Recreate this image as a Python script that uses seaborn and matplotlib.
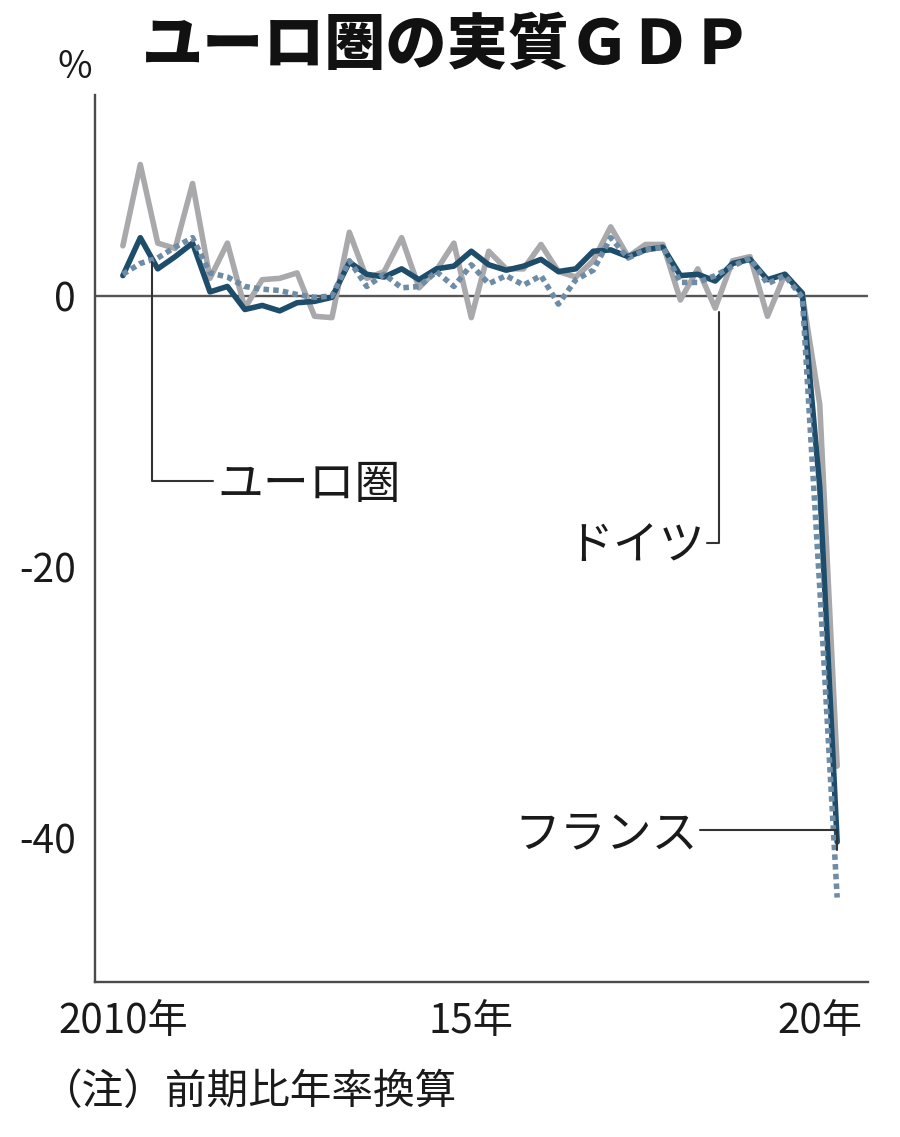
import matplotlib
matplotlib.use("Agg")
import matplotlib.pyplot as plt
import seaborn as sns
import pandas as pd
import numpy as np

# ---- data (annualised q/q %, 2010Q1 .. 2020Q2) ----
quarters = [f"{y}Q{q}" for y in range(2010, 2021) for q in range(1, 5)][:42]
euro = [1.5, 4.3, 2.0, 2.9, 3.9, 0.3, 0.7, -1.0, -0.7, -1.1,
        -0.5, -0.4, -0.1, 2.5, 1.6, 1.4, 2.0, 1.2, 2.0, 2.2,
        3.3, 2.3, 1.9, 2.2, 2.7, 1.8, 2.0, 3.3, 3.4, 2.9,
        3.4, 3.6, 1.5, 1.6, 1.1, 2.4, 2.7, 1.2, 1.6, 0.2,
        -14.1, -40.3]
germany = [3.7, 9.7, 3.9, 3.5, 8.3, 1.3, 3.9, -0.9, 1.2, 1.3,
           1.7, -1.5, -1.6, 4.7, 1.3, 1.8, 4.3, 0.6, 1.9, 3.9,
           -1.6, 3.3, 2.0, 2.0, 3.8, 1.8, 1.4, 2.6, 5.1, 2.9,
           3.8, 3.8, -0.3, 2.0, -0.9, 2.6, 2.9, -1.5, 1.6, 0.1,
           -8.0, -34.7]
france = [1.6, 2.4, 2.8, 3.6, 4.3, 1.7, 1.4, 0.7, 0.5, 0.4,
          0.1, -0.1, 0.0, 2.6, 0.7, 1.6, 0.6, 0.7, 1.8, 0.7,
          2.3, 0.9, 1.5, 0.8, 1.5, -0.6, 1.2, 1.9, 4.3, 2.8,
          3.4, 3.6, 1.0, 1.0, 1.5, 2.2, 2.8, 0.9, 1.5, -0.1,
          -21.5, -44.4]
xtick_labels = {0: "2010年", 20: "15年", 40: "20年"}
ytick_values = [0, -20, -40]

# ---- style ----
sns.set_style("white")
plt.rcParams["font.family"] = ["Noto Sans CJK JP", "DejaVu Sans"]

c_euro = "#1d4d6b"
c_ger = "#a9a9ac"
c_fra = "#6f8ca6"
c_axis = "#4a4a4a"
c_text = "#1a1a1a"

df = pd.DataFrame({"idx": np.arange(len(quarters)), "quarter": quarters,
                   "euro": euro, "germany": germany, "france": france})

fig = plt.figure(figsize=(9, 11.37), dpi=100)
ax = fig.add_axes([95 / 900, 1 - 982 / 1137, (868 - 95) / 900, (982 - 95) / 1137])

ax.axhline(0, color="#555555", lw=1.7, zorder=1)

sns.lineplot(data=df, x="idx", y="germany", ax=ax, color=c_ger, lw=4.0,
             zorder=2, solid_joinstyle="round")
sns.lineplot(data=df, x="idx", y="euro", ax=ax, color=c_euro, lw=4.0,
             zorder=3, solid_joinstyle="round")
sns.lineplot(data=df, x="idx", y="france", ax=ax, color=c_fra, lw=4.0,
             zorder=4, dashes=False)
ax.lines[-1].set_linestyle((0, (1.0, 0.75)))
ax.lines[-1].set_dash_capstyle("butt")

ax.set_xlim(-1.6, 42.77)
ax.set_ylim(-50.63, 14.83)

# axes styling
for s in ["top", "right"]:
    ax.spines[s].set_visible(False)
for s in ["left", "bottom"]:
    ax.spines[s].set_color(c_axis)
    ax.spines[s].set_linewidth(1.7)

ax.set_xticks(df["idx"])
ax.set_xticklabels([xtick_labels.get(i, "") for i in df["idx"]])
ax.tick_params(axis="x", direction="in", length=8, width=1.4, color=c_axis,
               pad=14, labelsize=29, labelcolor=c_text)
ax.set_yticks(ytick_values)
ax.set_yticklabels([str(v) for v in ytick_values])
ax.tick_params(axis="y", length=0, pad=14, labelsize=28, labelcolor=c_text)
ax.set_xlabel("")
ax.set_ylabel("")
ax.grid(False)

# callouts
lc = "#333333"
ax.plot([1.66, 1.66, 5.17], [2.5, -13.65, -13.65], color=lc, lw=1.5, zorder=5)
ax.text(5.4, -13.9, "ユーロ圏", fontsize=33, va="center", ha="left", color=c_text)
ax.plot([34.2, 34.2, 33.5], [-1.2, -18.2, -18.2], color=lc, lw=1.5, zorder=5)
ax.text(33.4, -18.4, "ドイツ", fontsize=33, va="center", ha="right", color=c_text)
ax.plot([33.1, 41.0, 41.0], [-39.4, -39.4, -40.9], color=lc, lw=1.5, zorder=5)
ax.text(33.0, -39.7, "フランス", fontsize=33, va="center", ha="right", color=c_text)

# titles / notes
fig.text(0.497, 1 - 46 / 1137, "ユーロ圏の実質ＧＤＰ", fontsize=44, weight="heavy",
         ha="center", va="center", color="#111111")
fig.text(75 / 900, 1 - 68 / 1137, "%", fontsize=27, ha="center", va="center",
         color=c_text)
fig.text(40 / 900, 1 - 1092 / 1137, "（注）前期比年率換算", fontsize=30, ha="left",
         va="center", color=c_text)

fig.savefig("out.png", dpi=100)
